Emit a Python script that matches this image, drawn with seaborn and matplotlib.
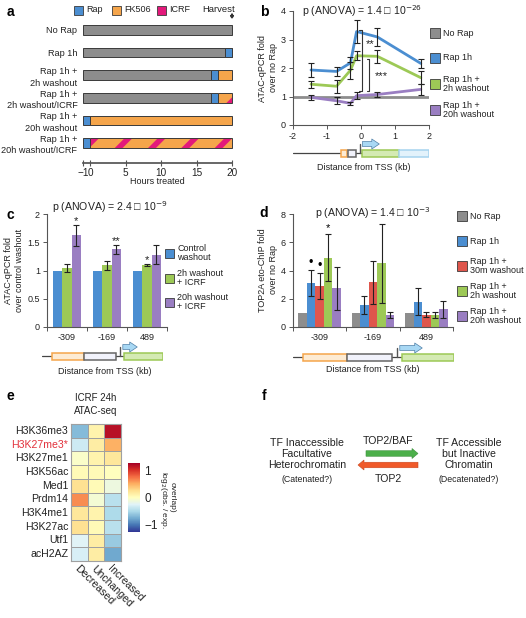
import numpy as np
import pandas as pd
import matplotlib
matplotlib.use("Agg")
import matplotlib.pyplot as plt
import seaborn as sns
from matplotlib.patches import Rectangle, FancyArrow

# ---------------- data ----------------
# a: treatment schedule (hours)
a_rows = ["No Rap", "Rap 1h", "Rap 1h +\n2h washout", "Rap 1h +\n2h washout/ICRF",
          "Rap 1h +\n20h washout", "Rap 1h +\n20h washout/ICRF"]
a_rap_start = [None, 19, 17, 17, -1, -1]
a_washout = [None, None, "FK506", "ICRF", "FK506", "ICRF"]
a_ticks = [-1, 0, 5, 10, 15, 20]

# b: ATAC-qPCR fold over no Rap
b_dist = [-1.47, -0.72, -0.31, -0.13, 0.48, 1.76]
b_rap = [1.93, 1.88, 2.18, 3.28, 3.09, 2.16]
b_rap_err = [0.25, 0.17, 0.2, 0.4, 0.33, 0.16]
b_2h = [1.43, 1.36, 1.92, 2.43, 2.41, 1.66]
b_2h_err = [0.12, 0.22, 0.3, 0.15, 0.22, 0.22]
b_20h = [0.97, 0.85, 0.76, 1.03, 1.07, 1.25]
b_20h_err = [0.1, 0.13, 0.05, 0.12, 0.1, 0.18]

# c: ATAC-qPCR fold over control washout
c_pos = ["-309", "-169", "489"]
c_control = [1, 1, 1]
c_2h = [1.05, 1.09, 1.1]
c_2h_err = [0.07, 0.08, 0.02]
c_20h = [1.62, 1.38, 1.28]
c_20h_err = [0.19, 0.08, 0.17]

# d: TOP2A eto-ChIP fold over no Rap
d_pos = ["-309", "-169", "489"]
d_norap = [1, 1, 1]
d_rap = [3.09, 1.54, 1.78]
d_rap_err = [0.93, 0.65, 0.95]
d_30m = [2.9, 3.16, 0.88]
d_30m_err = [0.9, 1.5, 0.2]
d_2h = [4.92, 4.51, 0.83]
d_2h_err = [1.65, 2.8, 0.2]
d_20h = [2.73, 0.83, 1.24]
d_20h_err = [1.5, 0.2, 0.62]

# e: log2(obs/exp overlap)
e_marks = ["H3K36me3", "H3K27me3*", "H3K27me1", "H3K56ac", "Med1", "Prdm14",
           "H3K4me1", "H3K27ac", "Utf1", "acH2AZ"]
e_groups = ["Decreased", "Unchanged", "Increased"]
e_decreased = [-0.7, -0.35, -0.05, 0.05, 0.25, 0.65, 0.2, 0.25, -0.25, -0.3]
e_unchanged = [0.1, 0.15, 0.1, 0.05, 0.05, -0.1, 0.1, 0.05, 0.15, 0.15]
e_increased = [1.2, 0.5, 0.2, 0.0, -0.15, -0.45, -0.5, -0.45, -0.6, -0.8]

# ---------------- style ----------------
sns.set_theme(style="ticks")
plt.rcParams["font.family"] = ["Liberation Sans", "DejaVu Sans"]
plt.rcParams["hatch.linewidth"] = 4.0
plt.rcParams["axes.edgecolor"] = "#555555"
plt.rcParams["xtick.color"] = "#555555"
plt.rcParams["ytick.color"] = "#555555"
plt.rcParams["xtick.labelcolor"] = "#222222"
plt.rcParams["ytick.labelcolor"] = "#222222"

GRAY = "#8d8d8d"
BLUE = "#4b8ed1"
ORANGE = "#f5a54b"
PINK = "#e3197b"
GREEN = "#9dc956"
PURPLE = "#9a7ec2"
RED = "#df564c"
EDGE = "#3a3a3a"
TXT = "#222222"
FS = 6.5
TITLE_FS = 7.6

W, H = 526, 618
fig = plt.figure(figsize=(W / 100, H / 100), dpi=100)


def box(l, t, r, b):
    return [l / W, 1 - b / H, (r - l) / W, (b - t) / H]


def ftext(x, y, s, **kw):
    kw.setdefault("fontsize", FS)
    kw.setdefault("ha", "center")
    kw.setdefault("va", "center")
    kw.setdefault("color", TXT)
    fig.text(x / W, 1 - y / H, s, **kw)


def key(x, y, color, label, size=9):
    fig.patches.append(Rectangle((x / W, 1 - (y + size / 2) / H), size / W, size / H,
                                 transform=fig.transFigure, facecolor=color,
                                 edgecolor=EDGE, lw=0.6))
    ftext(x + size + 3, y, label, ha="left", linespacing=1.1)


def gene(l, r, line_y, segs, stem, head, xlim):
    dax = fig.add_axes(box(l, line_y - 14, r, line_y + 6))
    dax.set_xlim(xlim)
    dax.set_ylim(-6, 14)
    dax.axis("off")
    dax.plot(xlim, [0, 0], color="#444444", lw=0.9, zorder=1)
    for (x0, x1), face, edge in segs:
        dax.add_patch(Rectangle((x0, -3.5), x1 - x0, 7, facecolor=face, edgecolor=edge,
                                lw=1.1, zorder=2))
    dax.plot([stem, stem], [0, 9], color="#555555", lw=1.0, zorder=3)
    dax.annotate("", xy=(head, 9), xytext=(stem, 9),
                 arrowprops=dict(arrowstyle="simple,head_length=0.6,head_width=0.8,tail_width=0.4",
                                 fc="#a8d8f4", ec="#4f7fa6", lw=0.5, mutation_scale=9))


def style_axes(ax):
    sns.despine(ax=ax)
    ax.tick_params(labelsize=FS, length=3, width=0.7, pad=2)
    for s in ax.spines.values():
        s.set_linewidth(0.8)


ORANGE_BOX = ("#fdebd3", ORANGE)
WHITE_BOX = ("#f1f2fb", "#666666")
GREEN_BOX = ("#d4eab3", GREEN)
LBLUE_BOX = ("#e3f2fb", "#a6d3ef")

# panel letters
for lab, x, y in [("a", 10, 12), ("b", 264, 12), ("c", 10, 215), ("d", 264, 213),
                  ("e", 10, 396), ("f", 264, 396)]:
    ftext(x, y, lab, fontsize=10, fontweight="bold", color="black")

# ---------------- panel a ----------------
ax = fig.add_axes(box(83, 20, 232, 163))
kw = dict(height=0.42, edgecolor=EDGE, linewidth=0.7, clip_on=False)
for i, (start, wash) in enumerate(zip(a_rap_start, a_washout)):
    if start is None:
        ax.barh(i, 21, left=-1, color=GRAY, **kw)
        continue
    if start > -1:
        ax.barh(i, start + 1, left=-1, color=GRAY, **kw)
    ax.barh(i, 1, left=start, color=BLUE, **kw)
    w = 20 - (start + 1)
    if wash == "FK506":
        ax.barh(i, w, left=start + 1, color=ORANGE, **kw)
    else:
        ax.barh(i, w, left=start + 1, color=ORANGE, edgecolor=PINK, hatch="/",
                linewidth=0, height=0.42, clip_on=False)
        ax.barh(i, w, left=start + 1, fill=False, edgecolor=EDGE, linewidth=0.7,
                height=0.42, clip_on=False)
ax.set_xlim(-1, 20)
ax.set_ylim(5.885, -0.44)
ax.set_yticks(range(len(a_rows)))
ax.set_yticklabels(a_rows, fontsize=6.6, linespacing=1.35)
ax.set_xticks(a_ticks)
ax.set_xticklabels(["\u22121"] + [str(t) for t in a_ticks[1:]])
for s in ["left", "top", "right"]:
    ax.spines[s].set_visible(False)
ax.tick_params(axis="y", length=0, pad=4)
ax.tick_params(axis="x", direction="inout", length=5, width=0.8, labelsize=7.2, pad=1)
ax.set_facecolor("none")
ftext(157, 182, "Hours treated")
key(74, 10, BLUE, "Rap")
key(112, 10, ORANGE, "FK506")
key(157, 10, PINK, "ICRF")
ftext(235, 9, "Harvest", ha="right", fontsize=6.8)
fig.patches.append(FancyArrow(2.32, (H - 14) / 100, 0, -0.04, width=0.006, head_width=0.03,
                              head_length=0.025, length_includes_head=True, color="#333333",
                              transform=fig.dpi_scale_trans))

# ---------------- panel b ----------------
bx = fig.add_axes(box(293, 11, 429, 125))
df_b = pd.DataFrame({
    "dist": b_dist * 3,
    "fold": b_rap + b_2h + b_20h,
    "cond": ["Rap 1h"] * 6 + ["2h"] * 6 + ["20h"] * 6,
})
bx.axhline(1, color=GRAY, lw=2, zorder=1)
sns.lineplot(data=df_b, x="dist", y="fold", hue="cond", palette=[BLUE, GREEN, PURPLE],
             lw=2, legend=False, errorbar=None, ax=bx)
for vals, errs in [(b_rap, b_rap_err), (b_2h, b_2h_err), (b_20h, b_20h_err)]:
    bx.errorbar(b_dist, vals, yerr=errs, fmt="none", ecolor="#222222", elinewidth=0.8,
                capsize=2, capthick=0.8, zorder=4)
bx.set_xlim(-2, 2)
bx.set_ylim(0, 4)
bx.set_xticks([-2, -1, 0, 1, 2])
bx.set_xticklabels(["-2", "-1", "0", "1", "2"])
bx.set_yticks([0, 1, 2, 3, 4])
bx.set_xlabel("")
bx.set_ylabel("")
style_axes(bx)
# significance brackets
for x, ytop, ybot, star, sx, sy in [(0.02, 3.32, 1.18, "**", 0.27, 2.85),
                                   (0.24, 2.33, 1.18, "***", 0.6, 1.72)]:
    bx.plot([x - 0.07, x, x, x - 0.07], [ytop, ytop, ybot, ybot], color="#333333", lw=0.8)
    bx.text(sx, sy, star, ha="center", va="center", fontsize=8, color=TXT)
ftext(362, 11, "p (ANOVA) = 1.4 \u25a1 10$^{-26}$", fontsize=TITLE_FS)
ftext(268, 68, "ATAC-qPCR fold\nover no Rap", rotation=90, linespacing=1.15)
key(430, 33, GRAY, "No Rap", size=10)
key(430, 58, BLUE, "Rap 1h", size=10)
key(430, 84, GREEN, "Rap 1h +\n2h washout", size=10)
key(430, 110, PURPLE, "Rap 1h +\n20h washout", size=10)
gene(293, 429, 153,
     [((-0.59, -0.41), *ORANGE_BOX), ((-0.38, -0.15), *WHITE_BOX),
      ((0.03, 1.12), *GREEN_BOX), ((1.12, 2.0), *LBLUE_BOX)],
     -0.04, 0.62, (-2, 2))
ftext(364, 167, "Distance from TSS (kb)")

# ---------------- panel c ----------------
cx = fig.add_axes(box(47, 214, 167, 327))
c_cond = ["Control", "2h", "20h"]
df_c = pd.DataFrame({
    "pos": c_pos * 3,
    "fold": c_control + c_2h + c_20h,
    "cond": [c for c in c_cond for _ in c_pos],
})
sns.barplot(data=df_c, x="pos", y="fold", hue="cond", palette=[BLUE, GREEN, PURPLE],
            width=0.68, errorbar=None, saturation=1, legend=False, linewidth=0, ax=cx)
for cont, errs in zip(cx.containers[1:], [c_2h_err, c_20h_err]):
    xs = [p.get_x() + p.get_width() / 2 for p in cont]
    hs = [p.get_height() for p in cont]
    cx.errorbar(xs, hs, yerr=errs, fmt="none", ecolor="#222222", elinewidth=0.8,
                capsize=2, capthick=0.8)
cx.set_xlim(-0.5, 2.5)
cx.set_ylim(0, 2)
cx.set_yticks([0, 0.5, 1, 1.5, 2])
cx.set_yticklabels(["0", "0.5", "1", "1.5", "2"])
cx.set_xlabel("")
cx.set_ylabel("")
style_axes(cx)
cx.tick_params(axis="x", length=0, pad=4)
cx.set_xticks([-0.5, 0.5, 1.5, 2.5], minor=True)
cx.tick_params(axis="x", which="minor", length=3, width=0.7)
for cont_i, grp, star in [(2, 0, "*"), (2, 1, "**"), (1, 2, "*")]:
    p = cx.containers[cont_i][grp]
    err = [c_2h_err, c_20h_err][cont_i - 1][grp]
    cx.text(p.get_x() + p.get_width() / 2, p.get_height() + err - 0.02, star,
            ha="center", va="bottom", fontsize=8, color=TXT)
ftext(110, 207, "p (ANOVA) = 2.4 \u25a1 10$^{-9}$", fontsize=TITLE_FS)
ftext(14, 270, "ATAC-qPCR fold\nover control washout", rotation=90, linespacing=1.15)
key(165, 253, BLUE, "Control\nwashout")
key(165, 278, GREEN, "2h washout\n+ ICRF")
key(165, 302, PURPLE, "20h washout\n+ ICRF")
gene(42, 163, 356,
     [((0.083, 0.347), *ORANGE_BOX), ((0.347, 0.612), *WHITE_BOX), ((0.678, 1.0), *GREEN_BOX)],
     0.645, 0.81, (0, 1))
ftext(105, 371, "Distance from TSS (kb)")

# ---------------- panel d ----------------
dx = fig.add_axes(box(293, 214, 453, 327))
d_cond = ["No Rap", "Rap 1h", "30m", "2h", "20h"]
df_d = pd.DataFrame({
    "pos": d_pos * 5,
    "fold": d_norap + d_rap + d_30m + d_2h + d_20h,
    "cond": [c for c in d_cond for _ in d_pos],
})
sns.barplot(data=df_d, x="pos", y="fold", hue="cond", palette=[GRAY, BLUE, RED, GREEN, PURPLE],
            width=0.8, errorbar=None, saturation=1, legend=False, linewidth=0, ax=dx)
d_errs = [d_rap_err, d_30m_err, d_2h_err, d_20h_err]
for cont, errs in zip(dx.containers[1:], d_errs):
    xs = [p.get_x() + p.get_width() / 2 for p in cont]
    hs = [p.get_height() for p in cont]
    dx.errorbar(xs, hs, yerr=errs, fmt="none", ecolor="#222222", elinewidth=0.8,
                capsize=2, capthick=0.8)
dx.set_xlim(-0.5, 2.5)
dx.set_ylim(0, 8)
dx.set_yticks([0, 2, 4, 6, 8])
dx.set_xlabel("")
dx.set_ylabel("")
style_axes(dx)
dx.tick_params(axis="x", length=0, pad=4)
dx.set_xticks([-0.5, 0.5, 1.5, 2.5], minor=True)
dx.tick_params(axis="x", which="minor", length=3, width=0.7)
for cont_i, star, fs in [(1, "\u2022", 9), (2, "\u2022", 9), (3, "*", 8)]:
    p = dx.containers[cont_i][0]
    err = d_errs[cont_i - 1][0]
    dx.text(p.get_x() + p.get_width() / 2, p.get_height() + err + 0.1, star,
            ha="center", va="bottom", fontsize=fs, color="black")
ftext(373, 213, "p (ANOVA) = 1.4 \u25a1 10$^{-3}$", fontsize=TITLE_FS)
ftext(268, 270, "TOP2A eto-ChIP fold\nover no Rap", rotation=90, linespacing=1.15)
key(457, 216, GRAY, "No Rap", size=10)
key(457, 241, BLUE, "Rap 1h", size=10)
key(457, 266, RED, "Rap 1h +\n30m washout", size=10)
key(457, 291, GREEN, "Rap 1h +\n2h washout", size=10)
key(457, 316, PURPLE, "Rap 1h +\n20h washout", size=10)
gene(293, 454, 357,
     [((0.062, 0.335), *ORANGE_BOX), ((0.335, 0.615), *WHITE_BOX), ((0.677, 1.0), *GREEN_BOX)],
     0.646, 0.82, (0, 1))
ftext(373, 370, "Distance from TSS (kb)")

# ---------------- panel e ----------------
ex = fig.add_axes(box(71, 424, 121, 561))
cax = fig.add_axes(box(128, 463, 140, 532))
df_e = pd.DataFrame({"Decreased": e_decreased, "Unchanged": e_unchanged,
                     "Increased": e_increased}, index=e_marks)
sns.heatmap(df_e, cmap="RdYlBu_r", vmin=-1.3, vmax=1.3, linewidths=0.6, linecolor="#a0a0a0",
            ax=ex, cbar_ax=cax, xticklabels=e_groups, yticklabels=e_marks)
for s in ex.spines.values():
    s.set_visible(True)
    s.set_color("#a0a0a0")
    s.set_linewidth(0.8)
ex.tick_params(length=0, pad=2)
ex.set_yticklabels(e_marks, rotation=0, fontsize=7.6)
ex.get_yticklabels()[1].set_color("#e2323c")
ex.set_xticklabels(e_groups, rotation=-45, ha="left", va="top", rotation_mode="anchor",
                   fontsize=7.6)
ex.tick_params(axis="x", pad=2)
cax.set_yticks([-1, 0, 1])
cax.set_yticklabels(["\u22121", "0", "1"])
cax.tick_params(length=0, labelsize=8.5, pad=3)
for s in cax.spines.values():
    s.set_visible(False)
ftext(96, 398, "ICRF 24h", fontsize=7)
ftext(96, 411, "ATAC-seq", fontsize=7)
ftext(163, 500, "log$_2$(obs. / exp.", rotation=270, fontsize=6)
ftext(172, 497, "overlap)", rotation=270, fontsize=6)

# ---------------- panel f ----------------
ftext(307, 454, "TF Inaccessible\nFacultative\nHeterochromatin", fontsize=7.6, linespacing=1.15)
ftext(307, 480, "(Catenated?)", fontsize=6.3)
ftext(469, 454, "TF Accessible\nbut Inactive\nChromatin", fontsize=7.6, linespacing=1.15)
ftext(469, 480, "(Decatenated?)", fontsize=6.3)
ftext(388, 441, "TOP2/BAF", fontsize=7.6)
ftext(388, 479, "TOP2", fontsize=7.6)
fig.patches.append(FancyArrow(3.66, (H - 453.5) / 100, 0.52, 0, width=0.055, head_width=0.1,
                              head_length=0.06, length_includes_head=True, facecolor="#4caf4a",
                              edgecolor="#3a8f3a", lw=0.4, transform=fig.dpi_scale_trans))
fig.patches.append(FancyArrow(4.18, (H - 465) / 100, -0.6, 0, width=0.055, head_width=0.1,
                              head_length=0.06, length_includes_head=True, facecolor="#f05a2a",
                              edgecolor="#c8481f", lw=0.4, transform=fig.dpi_scale_trans))

fig.savefig("out.png", dpi=100)
